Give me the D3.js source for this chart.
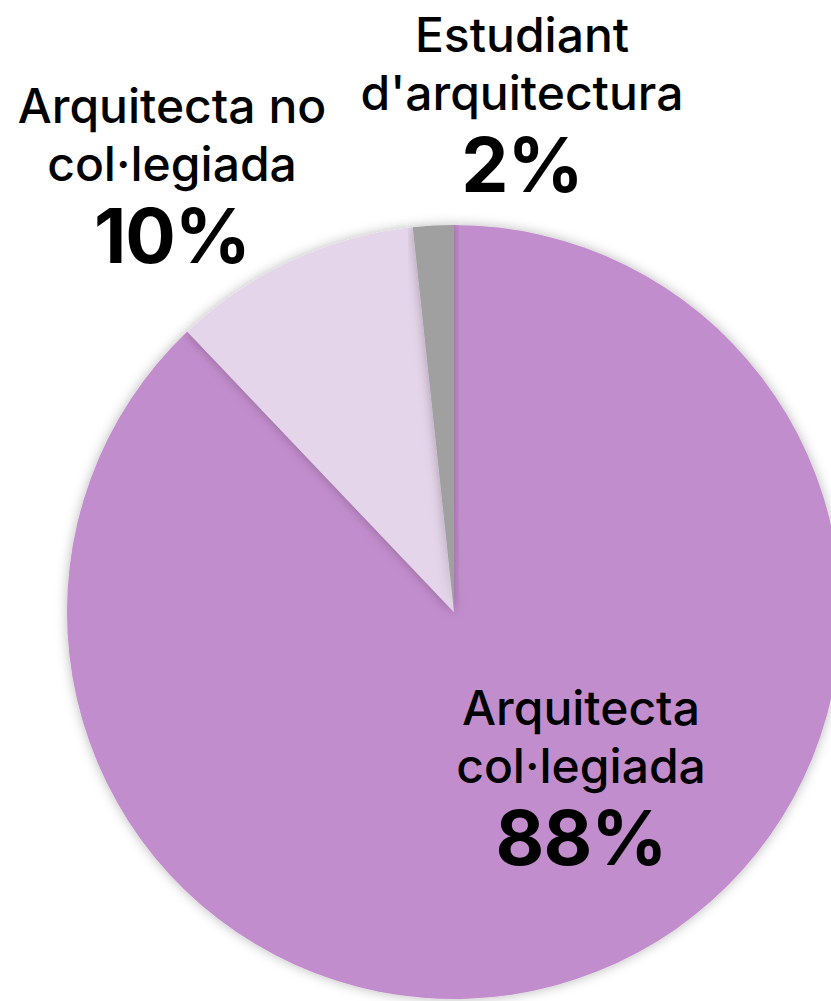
<!DOCTYPE html>
<html>
<head>
<meta charset="utf-8">
<script src="https://cdn.jsdelivr.net/npm/d3@7"></script>
<style>
  body { margin: 0; background: #fff; }
  svg { display: block; font-family: Inter, "Noto Sans", sans-serif; }
</style>
</head>
<body>
<svg id="chart" width="831" height="1001"></svg>
<script>
// data, clockwise from 12 o'clock
const categories = ["Arquitecta col·legiada", "Arquitecta no col·legiada", "Estudiant d'arquitectura"];
const values = [87.9, 10.4, 1.7];
const colors = ["#c28dcc", "#e5d5ea", "#a0a0a0"];
const labelLines = [["Arquitecta", "col·legiada"], ["Arquitecta no", "col·legiada"], ["Estudiant", "d'arquitectura"]];

const width = 831, height = 1001;
const cx = 454, cy = 612, radius = 387;

const svg = d3.select("#chart");

const defs = svg.append("defs");
const f = defs.append("filter").attr("id", "shadow")
  .attr("x", "-10%").attr("y", "-10%").attr("width", "120%").attr("height", "120%");
f.append("feDropShadow").attr("dx", 0).attr("dy", 0)
  .attr("stdDeviation", 6).attr("flood-color", "#000").attr("flood-opacity", 0.28);

const pie = d3.pie().sort(null).value(d => d);
const arcs = pie(values);
const arc = d3.arc().innerRadius(0).outerRadius(radius);

const g = svg.append("g").attr("transform", `translate(${cx},${cy})`);

g.selectAll("path.slice")
  .data(arcs)
  .join("path")
  .attr("class", "slice")
  .attr("d", arc)
  .attr("fill", (d, i) => colors[i])
  .attr("filter", "url(#shadow)");

// label positions (x center, first baseline)
const labelPos = [[581, 725], [172, 123], [522, 52]];
const lineGap = 58;

arcs.forEach((d, i) => {
  const [x, y] = labelPos[i];
  const t = svg.append("g").attr("text-anchor", "middle").attr("fill", "#000");
  labelLines[i].forEach((line, j) => {
    t.append("text")
      .attr("x", x).attr("y", y + j * lineGap)
      .attr("font-size", 48)
      .attr("font-weight", 500)
      .text(line);
  });
  t.append("text")
    .attr("x", x).attr("y", y + labelLines[i].length * lineGap + 24)
    .attr("font-size", 75)
    .attr("font-weight", 700)
    .attr("letter-spacing", -1)
    .text(Math.round(values[i]) + "%");
});
</script>
</body>
</html>
